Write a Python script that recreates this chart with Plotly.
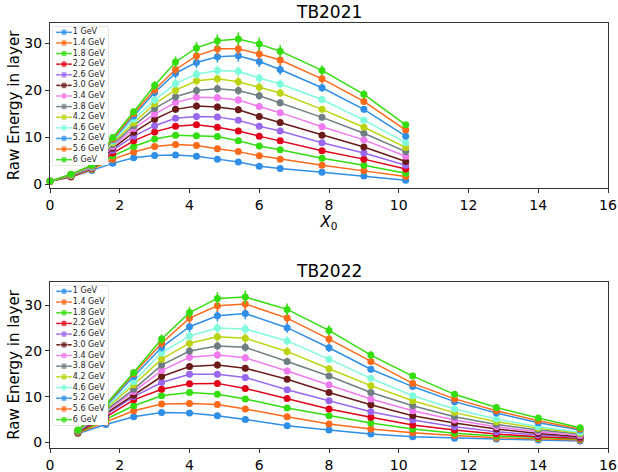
import plotly.graph_objects as go

W, H = 618, 472

energies = ["1 GeV", "1.4 GeV", "1.8 GeV", "2.2 GeV", "2.6 GeV", "3.0 GeV", "3.4 GeV",
            "3.8 GeV", "4.2 GeV", "4.6 GeV", "5.2 GeV", "5.6 GeV", "6 GeV"]
colors = ["#2f8ee6", "#ff6a1a", "#33dd0e", "#e0001a", "#9966ee", "#6b1a1a", "#f07af0",
          "#6e7e82", "#bcd40f", "#7ffcdc", "#2f8ee6", "#ff6a1a", "#33dd0e"]

x_2021 = [0, 0.6, 1.2, 1.8, 2.4, 3.0, 3.6, 4.2, 4.8, 5.4, 6.0, 6.6, 7.8, 9.0, 10.2]
y_2021_1_0 = [0.6, 1.5, 2.9, 4.4, 5.6, 6.1, 6.2, 5.9, 5.3, 4.7, 3.8, 3.3, 2.5, 1.7, 0.8]
y_2021_1_4 = [0.6, 1.5, 3.1, 5.3, 6.8, 8.0, 8.4, 8.2, 7.5, 6.9, 6.0, 5.3, 4.0, 2.8, 1.6]
y_2021_1_8 = [0.6, 1.6, 3.2, 6.0, 8.0, 9.6, 10.4, 10.3, 10.1, 9.2, 8.1, 7.3, 5.5, 4.0, 2.3]
y_2021_2_2 = [0.6, 1.6, 3.3, 6.6, 9.2, 11.1, 12.3, 12.6, 12.1, 11.3, 10.2, 9.2, 7.1, 5.3, 3.2]
y_2021_2_6 = [0.6, 1.7, 3.4, 7.2, 10.2, 12.4, 14.0, 14.4, 14.3, 13.6, 12.3, 11.3, 8.8, 6.6, 4.0]
y_2021_3_0 = [0.6, 1.7, 3.5, 7.6, 11.0, 13.8, 15.9, 16.6, 16.4, 15.8, 14.4, 13.1, 10.4, 7.9, 4.8]
y_2021_3_4 = [0.6, 1.8, 3.5, 8.0, 11.8, 14.9, 17.4, 18.5, 18.4, 17.9, 16.5, 15.2, 12.2, 9.4, 5.9]
y_2021_3_8 = [0.6, 1.8, 3.6, 8.4, 12.4, 16.1, 18.6, 19.9, 20.3, 19.9, 18.8, 17.3, 14.2, 10.8, 6.9]
y_2021_4_2 = [0.6, 1.9, 3.7, 8.8, 13.0, 17.1, 20.0, 22.0, 22.4, 21.8, 20.6, 19.4, 15.9, 12.1, 7.8]
y_2021_4_6 = [0.6, 1.9, 3.7, 9.1, 13.8, 17.9, 21.4, 23.4, 24.2, 24.0, 22.6, 21.3, 18.0, 13.6, 8.8]
y_2021_5_2 = [0.6, 2.0, 3.8, 9.4, 14.5, 19.5, 23.6, 25.9, 27.1, 27.3, 26.1, 24.4, 20.5, 15.9, 10.2]
y_2021_5_6 = [0.6, 2.0, 3.9, 9.6, 15.0, 20.1, 24.4, 27.3, 28.8, 28.8, 27.7, 26.4, 22.4, 17.6, 11.5]
y_2021_6_0 = [0.6, 2.1, 4.0, 9.9, 15.4, 21.0, 26.0, 29.0, 30.5, 30.9, 29.8, 28.3, 24.2, 19.1, 12.6]

x_2022 = [0.8, 1.6, 2.4, 3.2, 4.0, 4.8, 5.6, 6.8, 8.0, 9.2, 10.4, 11.6, 12.8, 14.0, 15.2]
y_2022_1_0 = [1.9, 3.9, 5.6, 6.5, 6.4, 5.8, 5.0, 3.6, 2.7, 1.8, 1.2, 0.9, 0.7, 0.5, 0.3]
y_2022_1_4 = [2.0, 4.4, 6.9, 8.4, 8.5, 8.3, 7.3, 5.6, 4.0, 2.9, 2.1, 1.5, 1.0, 0.8, 0.5]
y_2022_1_8 = [2.1, 5.0, 8.0, 10.2, 10.9, 10.5, 9.5, 7.5, 5.8, 4.2, 2.9, 2.0, 1.4, 1.0, 0.7]
y_2022_2_2 = [2.2, 5.5, 9.3, 11.6, 12.8, 12.9, 11.8, 9.6, 7.3, 5.5, 3.8, 2.7, 1.8, 1.2, 0.9]
y_2022_2_6 = [2.3, 6.0, 10.0, 13.1, 14.9, 14.9, 14.2, 11.5, 9.1, 6.7, 4.9, 3.4, 2.3, 1.6, 1.1]
y_2022_3_0 = [2.3, 6.3, 10.3, 14.4, 16.6, 16.9, 16.2, 13.8, 10.9, 8.2, 5.8, 4.2, 2.9, 1.9, 1.2]
y_2022_3_4 = [2.4, 6.7, 11.1, 15.7, 18.6, 19.1, 18.5, 15.6, 12.6, 9.5, 6.9, 4.9, 3.4, 2.3, 1.5]
y_2022_3_8 = [2.4, 7.0, 11.6, 16.9, 20.0, 21.1, 20.8, 17.7, 14.5, 10.9, 8.0, 5.6, 3.9, 2.7, 1.8]
y_2022_4_2 = [2.5, 7.3, 12.6, 18.2, 21.7, 23.1, 22.8, 19.9, 16.1, 12.4, 9.1, 6.5, 4.5, 3.1, 2.0]
y_2022_4_6 = [2.5, 7.6, 13.3, 19.6, 23.3, 25.0, 24.8, 22.2, 18.2, 14.0, 10.2, 7.3, 5.1, 3.4, 2.2]
y_2022_5_2 = [2.6, 7.9, 14.4, 20.8, 25.3, 27.7, 28.2, 25.1, 20.7, 16.0, 12.2, 8.9, 6.4, 4.3, 2.7]
y_2022_5_6 = [2.6, 8.1, 15.0, 21.7, 27.2, 29.9, 30.3, 27.2, 22.6, 17.7, 12.9, 9.5, 6.9, 4.7, 2.9]
y_2022_6_0 = [2.7, 8.3, 15.3, 22.6, 28.4, 31.5, 31.8, 29.1, 24.5, 19.1, 14.5, 10.5, 7.6, 5.3, 3.2]

series_2021 = [y_2021_1_0, y_2021_1_4, y_2021_1_8, y_2021_2_2, y_2021_2_6, y_2021_3_0, y_2021_3_4,
               y_2021_3_8, y_2021_4_2, y_2021_4_6, y_2021_5_2, y_2021_5_6, y_2021_6_0]
series_2022 = [y_2022_1_0, y_2022_1_4, y_2022_1_8, y_2022_2_2, y_2022_2_6, y_2022_3_0, y_2022_3_4,
               y_2022_3_8, y_2022_4_2, y_2022_4_6, y_2022_5_2, y_2022_5_6, y_2022_6_0]

titles = ["TB2021", "TB2022"]
x_ticks = [0, 2, 4, 6, 8, 10, 12, 14, 16]
y_ticks = [0, 10, 20, 30]

FONT = "DejaVu Sans"

def px_x(p):
    return p / W

def px_y(p):
    return 1 - p / H

fig = go.Figure()

plots = [
    dict(top=23, bottom=188, yr=[-0.85, 34.3], leg_top=27, leg_bottom=165),
    dict(top=282, bottom=448, yr=[-1.25, 35.1], leg_top=286, leg_bottom=425),
]
left, right = 50, 608
leg_left, leg_right = 53, 108

for k, (xs, series) in enumerate([(x_2021, series_2021), (x_2022, series_2022)]):
    xa = "x" if k == 0 else "x2"
    ya = "y" if k == 0 else "y2"
    for i, ys in enumerate(series):
        fig.add_trace(go.Scatter(
            x=xs, y=ys, mode="lines+markers", xaxis=xa, yaxis=ya,
            line=dict(color=colors[i], width=1.5),
            marker=dict(color=colors[i], size=7),
            error_y=dict(type="percent", value=4.5, color=colors[i], thickness=1.5, width=0),
            name=energies[i], showlegend=False, hoverinfo="skip", cliponaxis=False))

    lxa = "x3" if k == 0 else "x4"
    lya = "y3" if k == 0 else "y4"
    for i, name in enumerate(energies):
        fig.add_trace(go.Scatter(
            x=[0.06, 0.2, 0.34], y=[i, i, i], mode="lines+markers", xaxis=lxa, yaxis=lya,
            line=dict(color=colors[i], width=1.5),
            marker=dict(color=colors[i], size=[0, 7, 0]),
            showlegend=False, hoverinfo="skip", cliponaxis=False))
    fig.add_trace(go.Scatter(
        x=[0.36] * len(energies), y=list(range(len(energies))), mode="text",
        text=energies, textposition="middle right", xaxis=lxa, yaxis=lya,
        textfont=dict(size=8, color="#222", family=FONT),
        showlegend=False, hoverinfo="skip", cliponaxis=False))

axis_common = dict(showline=True, mirror=True, linecolor="#333", linewidth=1,
                   ticks="outside", ticklen=4, tickwidth=1, tickcolor="#333",
                   showgrid=False, zeroline=False, automargin=False,
                   tickfont=dict(size=14, color="black", family=FONT))

p0, p1 = plots
fig.update_layout(
    width=W, height=H, margin=dict(l=0, r=0, t=0, b=0, autoexpand=False),
    paper_bgcolor="white", plot_bgcolor="white", showlegend=False,
    font=dict(family=FONT, color="black"),
    xaxis=dict(domain=[px_x(left), px_x(right)], range=[0, 16], tickvals=x_ticks,
               anchor="y", title=dict(text="<i>X</i><sub>0</sub>", font=dict(size=15), standoff=0),
               **axis_common),
    yaxis=dict(domain=[px_y(p0["bottom"]), px_y(p0["top"])], range=p0["yr"], tickvals=y_ticks,
               anchor="x", title=dict(text="Raw Energy in layer", font=dict(size=15), standoff=1),
               **axis_common),
    xaxis2=dict(domain=[px_x(left), px_x(right)], range=[0, 16], tickvals=x_ticks,
                anchor="y2", **axis_common),
    yaxis2=dict(domain=[px_y(p1["bottom"]), px_y(p1["top"])], range=p1["yr"], tickvals=y_ticks,
                anchor="x2", title=dict(text="Raw Energy in layer", font=dict(size=15), standoff=1),
                **axis_common),
)

for k, p in enumerate(plots):
    xn = "xaxis3" if k == 0 else "xaxis4"
    yn = "yaxis3" if k == 0 else "yaxis4"
    fig.layout[xn] = dict(domain=[px_x(leg_left), px_x(leg_right)], range=[0, 1],
                          anchor="y3" if k == 0 else "y4", visible=False, fixedrange=True)
    fig.layout[yn] = dict(domain=[px_y(p["leg_bottom"]), px_y(p["leg_top"])], range=[12.5, -0.5],
                          anchor="x3" if k == 0 else "x4", visible=False, fixedrange=True)
    fig.add_shape(type="rect", xref="paper", yref="paper",
                  x0=px_x(leg_left), x1=px_x(leg_right),
                  y0=px_y(p["leg_bottom"]), y1=px_y(p["leg_top"]),
                  line=dict(color="#d0d0d0", width=1), fillcolor="rgba(255,255,255,0.8)",
                  layer="below")
    fig.add_annotation(text=titles[k], xref="paper", yref="paper",
                       x=px_x((left + right) / 2), y=px_y(p["top"] - 11),
                       xanchor="center", yanchor="middle", showarrow=False,
                       font=dict(size=17, color="black", family=FONT))

fig.write_html("out.html", config={"displayModeBar": False},
               post_script="document.body.style.margin='0';document.body.style.overflow='hidden';")
